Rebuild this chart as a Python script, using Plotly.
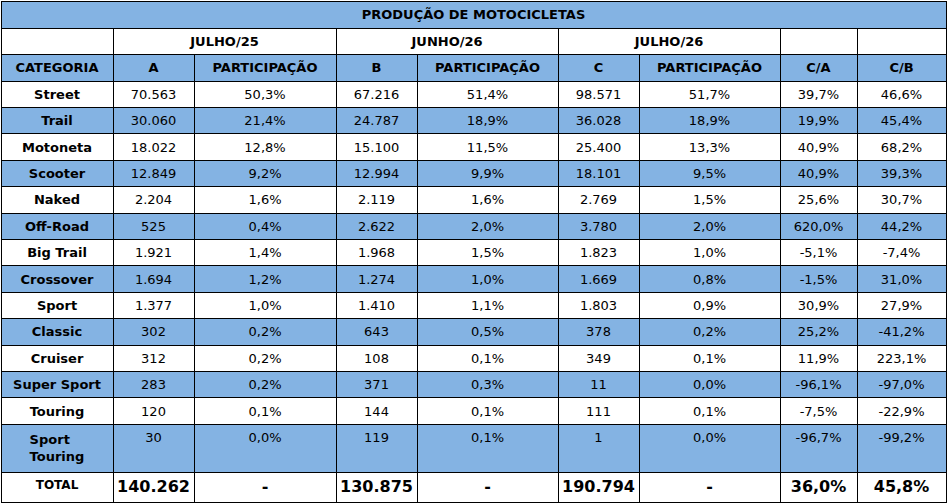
import plotly.graph_objects as go

categories = ["Street", "Trail", "Motoneta", "Scooter", "Naked", "Off-Road", "Big Trail",
              "Crossover", "Sport", "Classic", "Cruiser", "Super Sport", "Touring", "Sport<br>Touring"]
jul25 = [70563, 30060, 18022, 12849, 2204, 525, 1921, 1694, 1377, 302, 312, 283, 120, 30]
jul25_share = [50.3, 21.4, 12.8, 9.2, 1.6, 0.4, 1.4, 1.2, 1.0, 0.2, 0.2, 0.2, 0.1, 0.0]
jun26 = [67216, 24787, 15100, 12994, 2119, 2622, 1968, 1274, 1410, 643, 108, 371, 144, 119]
jun26_share = [51.4, 18.9, 11.5, 9.9, 1.6, 2.0, 1.5, 1.0, 1.1, 0.5, 0.1, 0.3, 0.1, 0.1]
jul26 = [98571, 36028, 25400, 18101, 2769, 3780, 1823, 1669, 1803, 378, 349, 11, 111, 1]
jul26_share = [51.7, 18.9, 13.3, 9.5, 1.5, 2.0, 1.0, 0.8, 0.9, 0.2, 0.1, 0.0, 0.1, 0.0]
c_over_a = [39.7, 19.9, 40.9, 40.9, 25.6, 620.0, -5.1, -1.5, 30.9, 25.2, 11.9, -96.1, -7.5, -96.7]
c_over_b = [46.6, 45.4, 68.2, 39.3, 30.7, 44.2, -7.4, 31.0, 27.9, -41.2, 223.1, -97.0, -22.9, -99.2]
total_a, total_b, total_c = 140262, 130875, 190794
total_c_over_a, total_c_over_b = 36.0, 45.8

title = "PRODUÇÃO DE MOTOCICLETAS"
periods = ["JULHO/25", "JUNHO/26", "JULHO/26"]
columns = ["CATEGORIA", "A", "PARTICIPAÇÃO", "B", "PARTICIPAÇÃO", "C", "PARTICIPAÇÃO", "C/A", "C/B"]

BLUE = "#84B3E3"
FONT = "DejaVu Sans"
W, H = 948, 504
MT, MB = 1, 0
ROW_H = 26.4
TOTAL_TOP = 472.2


def num(v):
    return f"{v:,}".replace(",", ".")


def pct(v):
    return f"{v:.1f}%".replace(".", ",")


def dom(top, bottom):
    h = H - MT - MB
    return [max(0, 1 - (bottom - MT) / h), min(1, 1 - (top - MT) / h)]


col_w = [112, 81, 142, 81, 141, 81, 141, 77, 89]
group_w = [col_w[0], col_w[1] + col_w[2], col_w[3] + col_w[4], col_w[5] + col_w[6], col_w[7], col_w[8]]
line = dict(color="black", width=1)
no_line = dict(color="white", width=0)
head_font = dict(family=FONT, size=13, color="black", weight="bold")

row_fill = [BLUE if i % 2 else "white" for i in range(len(categories))]

body = [
    categories,
    [num(v) for v in jul25],
    [pct(v) for v in jul25_share],
    [num(v) for v in jun26],
    [pct(v) for v in jun26_share],
    [num(v) for v in jul26],
    [pct(v) for v in jul26_share],
    [pct(v) for v in c_over_a],
    [pct(v) for v in c_over_b],
]
total_row = ["TOTAL", num(total_a), "-", num(total_b), "-", num(total_c), "-",
             pct(total_c_over_a), pct(total_c_over_b)]

fig = go.Figure()

# title row (the spare cell row underneath is hidden by the next table)
fig.add_trace(go.Table(
    domain=dict(x=[0, 1], y=dom(1, 31)),
    header=dict(values=[title], fill_color=BLUE, line=line, height=27, font=head_font, align="center"),
    cells=dict(values=[[""]], fill_color="white", line=no_line, height=2),
))

# period row
fig.add_trace(go.Table(
    domain=dict(x=[0, 1], y=dom(28, 58)),
    columnwidth=group_w,
    header=dict(values=[""] + periods + ["", ""], fill_color="white", line=line, height=26,
                font=head_font, align="center"),
    cells=dict(values=[[""]] * len(group_w), fill_color="white", line=no_line, height=2),
))

# total row (its 1px blank header hides under the last category row)
fig.add_trace(go.Table(
    domain=dict(x=[0, 1], y=dom(TOTAL_TOP - 1, 504)),
    columnwidth=col_w,
    header=dict(values=[""] * len(col_w), fill_color="white", line=no_line, height=1),
    cells=dict(values=[[v] for v in total_row], fill_color="white", line=line, height=30,
               font=dict(family=FONT, size=[12] + [16] * 8, color="black", weight="bold"),
               align="center"),
))

# column header and categories
fig.add_trace(go.Table(
    domain=dict(x=[0, 1], y=dom(54, 504)),
    columnwidth=col_w,
    header=dict(values=columns, fill_color=BLUE, line=line, height=27, font=head_font, align="center"),
    cells=dict(values=body, fill_color=[row_fill] * len(columns), line=line, height=ROW_H,
               font=dict(family=FONT, size=13, color="black", weight=[700] + [400] * 8),
               align="center"),
))

fig.update_layout(width=W, height=H, margin=dict(l=1, r=2, t=MT, b=MB),
                  paper_bgcolor="white", plot_bgcolor="white")

fig.write_html("out.html", config={"displayModeBar": False},
               post_script="document.body.style.margin='0';")
